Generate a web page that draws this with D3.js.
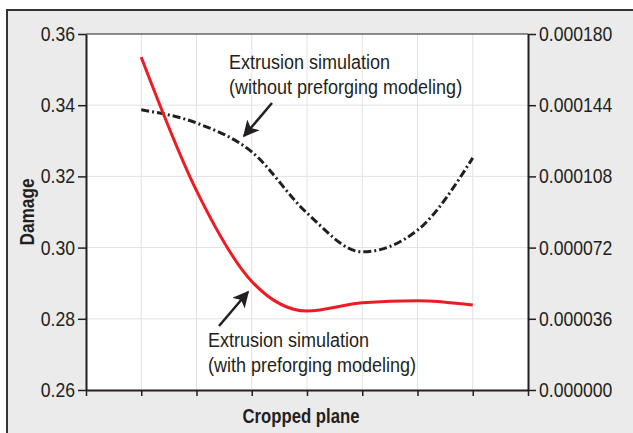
<!doctype html>
<html lang="en">
<head>
  <meta charset="utf-8">
  <title>Damage along cropped plane</title>
  <script src="https://cdn.jsdelivr.net/npm/d3@7/dist/d3.min.js"></script>
  <style>
    body { margin: 0; background: #fff; }
    svg { display: block; }
    .tick text { font-family: "Liberation Sans", Arial, sans-serif; font-size: 20px; fill: #231f20; }
    .note { font-family: "Liberation Sans", Arial, sans-serif; font-size: 20px; fill: #231f20; }
    .title { font-family: "Liberation Sans", Arial, sans-serif; font-size: 20px; font-weight: bold; fill: #231f20; }
  </style>
</head>
<body>
<svg id="chart" width="633" height="433"></svg>
<script>
  // cropped planes 1..7, axis runs 0..8
  var planes = [1, 2, 3, 4, 5, 6, 7];
  var withPreforging = [0.3535, 0.3160, 0.2905, 0.2822, 0.2845, 0.2851, 0.2839];
  var withoutPreforging = [0.3387, 0.3350, 0.3269, 0.3097, 0.2988, 0.3049, 0.3252];
  var leftTicks = [0.26, 0.28, 0.30, 0.32, 0.34, 0.36];
  var rightTicks = [0.000000, 0.000036, 0.000072, 0.000108, 0.000144, 0.000180];
  var xTicks = [0, 1, 2, 3, 4, 5, 6, 7, 8];

  var svg = d3.select("#chart");
  var m = { left: 86, top: 34, right: 528, bottom: 390 };

  var x = d3.scaleLinear().domain([0, 8]).range([m.left, m.right]);
  var y = d3.scaleLinear().domain([0.26, 0.36]).range([m.bottom, m.top]);
  var y2 = d3.scaleLinear().domain([0, 0.00018]).range([m.bottom, m.top]);

  // squeeze text horizontally to mimic the condensed face
  function squeeze(sel, k) {
    sel.each(function() {
      var w = this.getComputedTextLength();
      d3.select(this).attr("textLength", w * k).attr("lengthAdjust", "spacingAndGlyphs");
    });
  }

  // outer panel
  svg.append("rect").attr("x", 7).attr("y", 10).attr("width", 640).attr("height", 440)
    .attr("fill", "#ebebeb").attr("stroke", "#333").attr("stroke-width", 2);
  svg.append("rect").attr("x", m.left).attr("y", m.top)
    .attr("width", m.right - m.left).attr("height", m.bottom - m.top).attr("fill", "#fff");

  // grid
  svg.append("g").selectAll("line").data(xTicks.slice(1, -1)).enter().append("line")
    .attr("x1", x).attr("x2", x).attr("y1", m.top).attr("y2", m.bottom)
    .attr("stroke", "#e2e2e2").attr("stroke-width", 1);
  svg.append("g").selectAll("line").data(leftTicks.slice(1, -1)).enter().append("line")
    .attr("x1", m.left).attr("x2", m.right).attr("y1", y).attr("y2", y)
    .attr("stroke", "#e2e2e2").attr("stroke-width", 1);

  // top frame line
  svg.append("line").attr("x1", m.left).attr("x2", m.right).attr("y1", m.top).attr("y2", m.top)
    .attr("stroke", "#231f20").attr("stroke-width", 1.2);

  var line = d3.line().curve(d3.curveMonotoneX)
    .x(function(d, i) { return x(planes[i]); })
    .y(function(d) { return y(d); });

  svg.append("path").datum(withoutPreforging).attr("d", line)
    .attr("fill", "none").attr("stroke", "#231f20").attr("stroke-width", 3)
    .attr("stroke-dasharray", "8,3,2,3");
  svg.append("path").datum(withPreforging).attr("d", line)
    .attr("fill", "none").attr("stroke", "#ed1c24").attr("stroke-width", 3);

  // axes
  function styleAxis(g) {
    g.select(".domain").attr("stroke", "#231f20").attr("stroke-width", 2);
    g.selectAll(".tick line").attr("stroke", "#231f20").attr("stroke-width", 1.5);
  }
  svg.append("g").attr("transform", "translate(0," + m.bottom + ")")
    .call(d3.axisBottom(x).tickValues(xTicks).tickFormat("").tickSize(6).tickSizeOuter(0))
    .call(styleAxis);
  svg.append("g").attr("transform", "translate(" + m.left + ",0)")
    .call(d3.axisLeft(y).tickValues(leftTicks).tickFormat(d3.format(".2f")).tickSize(8).tickPadding(3).tickSizeOuter(0))
    .call(styleAxis);
  svg.append("g").attr("transform", "translate(" + m.right + ",0)")
    .call(d3.axisRight(y2).tickValues(rightTicks).tickFormat(d3.format(".6f")).tickSize(8).tickPadding(3).tickSizeOuter(0))
    .call(styleAxis);
  svg.selectAll(".tick text").attr("font-family", null).attr("font-size", null).call(squeeze, 0.88);

  // titles (condensed bold look)
  svg.append("text").attr("class", "title").attr("text-anchor", "middle")
    .attr("x", 301).attr("y", 423)
    .attr("textLength", 117).attr("lengthAdjust", "spacingAndGlyphs").text("Cropped plane");
  svg.append("text").attr("class", "title").attr("text-anchor", "middle")
    .attr("transform", "translate(34," + ((m.top + m.bottom) / 2) + ") rotate(-90)")
    .attr("textLength", 67).attr("lengthAdjust", "spacingAndGlyphs").text("Damage");

  // annotations
  function note(lines, x0, y0) {
    lines.forEach(function(s, i) {
      svg.append("text").attr("class", "note").attr("x", x0).attr("y", y0 + i * 25).text(s)
        .call(squeeze, 0.9);
    });
  }
  note(["Extrusion simulation", "(without preforging modeling)"], 229, 69);
  note(["Extrusion simulation", "(with preforging modeling)"], 208, 347);

  svg.append("defs").append("marker").attr("id", "head")
    .attr("viewBox", "0 0 10 10").attr("refX", 9).attr("refY", 5)
    .attr("markerWidth", 6.5).attr("markerHeight", 6.5).attr("markerUnits", "strokeWidth")
    .attr("orient", "auto")
    .append("path").attr("d", "M0,0 L10,5 L0,10 L2.5,5 Z").attr("fill", "#231f20");
  function arrow(x1, y1, x2, y2) {
    svg.append("line").attr("x1", x1).attr("y1", y1).attr("x2", x2).attr("y2", y2)
      .attr("stroke", "#231f20").attr("stroke-width", 2.5).attr("marker-end", "url(#head)");
  }
  arrow(272, 103, 244, 136);
  arrow(219, 326, 248, 292);
</script>
</body>
</html>
